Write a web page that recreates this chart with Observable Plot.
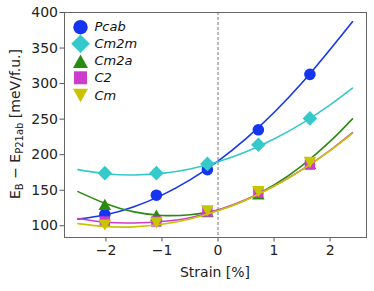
<!DOCTYPE html>
<html>
<head>
<meta charset="utf-8">
<script src="https://cdn.jsdelivr.net/npm/d3@7"></script>
<script src="https://cdn.jsdelivr.net/npm/@observablehq/plot@0.6"></script>
<style>
  html, body { margin: 0; padding: 0; background: #fff; }
  #chart { width: 374px; height: 291px; }
</style>
</head>
<body>
<div id="chart"></div>
<script>
// ---- data ----
const seriesNames = ["Pcab", "Cm2m", "Cm2a", "C2", "Cm"];
const strain = [-2.02, -1.10, -0.19, 0.72, 1.64];
const pcab = [116, 143, 179, 235, 313];
const cm2m = [174, 174, 187, 214, 251];
const cm2a = [130, 115, 120, 145, 188];
const c2   = [106, 106, 120, 147, 186];
const cm   = [101, 104, 121, 148, 189];

// fitted curves at these strains
const fitX = [-2.5, -2, -1.5, -1, -0.5, 0, 0.5, 1, 1.5, 2, 2.4];
const fitPcab = [109.4, 115.6, 126.8, 143.1, 164.5, 191, 222.6, 259.3, 301.1, 348, 387];
const fitCm2m = [179, 173.2, 171.5, 173.7, 179.9, 190, 204.1, 222.1, 244.1, 270, 293.6];
const fitCm2a = [148, 131, 119.5, 114.5, 115.5, 122, 136.4, 157.3, 184.7, 218.6, 250.5];
const fitC2   = [110.3, 105, 104, 106, 111.4, 122, 136.8, 155.8, 178.9, 206.1, 231];
const fitCm   = [103, 98.8, 98.5, 102.1, 109.6, 121, 136.3, 155.5, 178.6, 205.6, 230];

const xTicks = [-2, -1, 0, 1, 2];
const yTicks = [100, 150, 200, 250, 300, 350, 400];

const colors = ["#1535f0", "#35c9c9", "#2b8a12", "#cc3dcc", "#c9c400"];
const values = [pcab, cm2m, cm2a, c2, cm];
const fits = [fitPcab, fitCm2m, fitCm2a, fitC2, fitCm];

// ---- marker shapes ----
function shape(kind, s) {
  return {
    draw(ctx) {
      if (kind === "circle") { ctx.moveTo(s, 0); ctx.arc(0, 0, s, 0, 2 * Math.PI); }
      else if (kind === "diamond") { ctx.moveTo(0, -s); ctx.lineTo(s, 0); ctx.lineTo(0, s); ctx.lineTo(-s, 0); ctx.closePath(); }
      else if (kind === "square") { ctx.moveTo(-s, -s); ctx.lineTo(s, -s); ctx.lineTo(s, s); ctx.lineTo(-s, s); ctx.closePath(); }
      else if (kind === "up") { const h = s * 0.9; ctx.moveTo(0, -h); ctx.lineTo(s, h); ctx.lineTo(-s, h); ctx.closePath(); }
      else if (kind === "down") { const h = s * 0.9; ctx.moveTo(0, h); ctx.lineTo(s, -h); ctx.lineTo(-s, -h); ctx.closePath(); }
    }
  };
}
const kinds = ["circle", "diamond", "up", "square", "down"];
const plotSize = [5.8, 7.3, 6.3, 5.2, 6.3];
const legendSize = [7.2, 9.3, 7.5, 6.5, 7.5];
const legendRowY = [26.7, 43.3, 60.7, 77.3, 95];

const fmtInt = d => d3.format("d")(d);

const marks = [
  Plot.ruleX([0], {stroke: "#777", strokeWidth: 1, strokeDasharray: "3,2"}),
  Plot.axisX({ticks: xTicks, tickFormat: fmtInt, tickSize: 4.5, tickPadding: 3, stroke: "#555", fill: "#222", label: null}),
  Plot.axisY({ticks: yTicks, tickFormat: fmtInt, tickSize: 4.5, tickPadding: 2, stroke: "#555", fill: "#222", label: null})
];

seriesNames.forEach((name, i) => {
  const fitData = fitX.map((x, j) => ({x, y: fits[i][j]}));
  const ptData = strain.map((x, j) => ({x, y: values[i][j]}));
  marks.push(Plot.line(fitData, {x: "x", y: "y", stroke: colors[i], strokeWidth: 1.6, curve: "natural"}));
  marks.push(Plot.dot(ptData, {x: "x", y: "y", symbol: shape(kinds[i], plotSize[i]), r: 5, fill: colors[i], stroke: "none"}));
});

// legend
seriesNames.forEach((name, i) => {
  marks.push(Plot.dot([name], {frameAnchor: "top-left", dx: 16, dy: legendRowY[i] - 12, symbol: shape(kinds[i], legendSize[i]), r: 5, fill: colors[i], stroke: "none"}));
  marks.push(Plot.text([name], {text: d => d, frameAnchor: "top-left", dx: 30, dy: legendRowY[i] - 12, textAnchor: "start", lineAnchor: "middle", fontStyle: "italic", fontSize: 13, fill: "#111"}));
});

marks.push(Plot.frame({stroke: "#666", strokeWidth: 1}));

const chart = Plot.plot({
  width: 374,
  height: 291,
  marginLeft: 64,
  marginRight: 8,
  marginTop: 12,
  marginBottom: 54,
  style: {fontFamily: "'DejaVu Sans', sans-serif", fontSize: "14px", color: "#222", background: "#fff"},
  x: {domain: [-2.74, 2.65]},
  y: {domain: [83.5, 400]},
  marks
});

document.getElementById("chart").appendChild(chart);

// axis titles
const svg = d3.select(chart);
svg.append("text")
  .attr("x", 215).attr("y", 276.5)
  .attr("text-anchor", "middle")
  .attr("font-family", "'DejaVu Sans', sans-serif")
  .attr("font-size", 14).attr("fill", "#222")
  .text("Strain [%]");

const yl = svg.append("text")
  .attr("transform", "translate(20,124) rotate(-90)")
  .attr("text-anchor", "middle")
  .attr("font-family", "'DejaVu Sans', sans-serif")
  .attr("font-size", 14).attr("fill", "#222");
yl.append("tspan").text("E");
yl.append("tspan").attr("font-size", 10).attr("dy", 3).text("B");
yl.append("tspan").attr("dy", -3).text(" \u2212 E");
yl.append("tspan").attr("font-size", 10).attr("dy", 3).text("P21ab");
yl.append("tspan").attr("dy", -3).text(" [meV/f.u.]");
</script>
</body>
</html>
